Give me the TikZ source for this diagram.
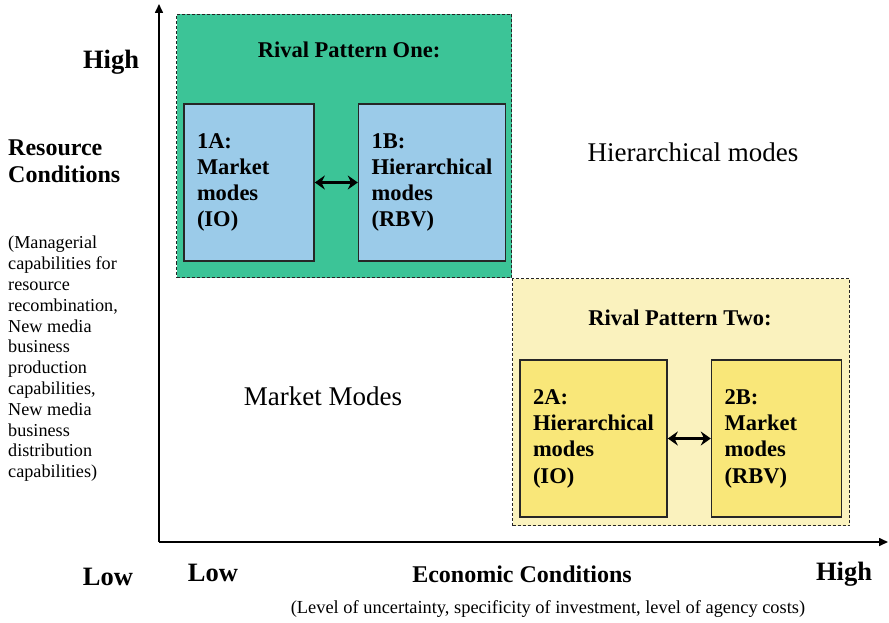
\documentclass[tikz,border=0pt]{standalone}
\usepackage{fontspec}
\setmainfont{Liberation Serif}
\usetikzlibrary{arrows.meta,positioning}
\definecolor{onegreen}{RGB}{60,196,151}
\definecolor{oneblue}{RGB}{155,203,233}
\definecolor{twopale}{RGB}{250,242,190}
\definecolor{twoyellow}{RGB}{249,231,121}

\begin{document}
\begin{tikzpicture}[
  x=1pt,y=-1pt,
  pattern/.style={draw=black!85,densely dashed,line width=1pt,anchor=north west},
  ptitle/.style={font=\fontsize{22.5}{26}\selectfont\bfseries},
  inbox/.style={draw=black!85,line width=1.6pt,minimum height=157pt,inner xsep=13pt,
    align=left,font=\fontsize{22.5}{26.3}\selectfont\bfseries},
  duo/.style={line width=3.6pt,{Stealth[length=10pt,width=14pt]}-{Stealth[length=10pt,width=14pt]}},
  axis/.style={line width=1.6pt,-{Triangle[length=9pt,width=8pt]}},
  big/.style={font=\fontsize{26.5}{30}\selectfont\bfseries},
  mode/.style={font=\fontsize{27}{30}\selectfont},
]
\useasboundingbox (0,0) rectangle (889,623);

% rival pattern one
\node[pattern,fill=onegreen,minimum width=335pt,minimum height=263pt] (p1) at (176,14) {};
\node[ptitle] (p1t) at (349,50) {Rival Pattern One:};
\node[inbox,fill=oneblue,minimum width=130pt,text width=104pt] (a1) at (249,182.5)
  {1A:\\Market\\modes\\(IO)};
\node[inbox,fill=oneblue,minimum width=147pt,text width=121pt,right=43pt of a1] (b1)
  {1B:\\Hierarchical\\modes\\(RBV)};
\draw[duo] (a1) -- (b1);

% rival pattern two
\node[pattern,fill=twopale,minimum width=337pt,minimum height=247pt] (p2) at (512,278) {};
\node[ptitle] (p2t) at (680,318) {Rival Pattern Two:};
\node[inbox,fill=twoyellow,minimum width=147pt,text width=121pt] (a2) at (593.5,438.5)
  {2A:\\Hierarchical\\modes\\(IO)};
\node[inbox,fill=twoyellow,minimum width=130pt,text width=104pt,right=43pt of a2] (b2)
  {2B:\\Market\\modes\\(RBV)};
\draw[duo] (a2) -- (b2);

% axes
\coordinate (o) at (159,542);
\coordinate (ytop) at (159,4);
\coordinate (xend) at (888,542);
\draw[axis] (o) -- (ytop);
\draw[axis] (o) -- (xend);

% regions
\node[mode] (hier) at (693,152) {Hierarchical modes};
\node[mode] (mark) at (323,396) {Market Modes};

% vertical axis labels
\node[big] (yhigh) at (111,62) {High};
\node[big] (ylow) at (108,577) {Low};
\node[anchor=north west,inner sep=0pt,align=left,font=\fontsize{24}{27}\selectfont\bfseries] (ytitle) at (8,140)
  {Resource\\Conditions};
\node[anchor=north west,inner sep=0pt,align=left,font=\fontsize{18.2}{20.8}\selectfont] (ynote) at (8,236)
  {(Managerial\\capabilities for\\resource\\recombination,\\New media\\business\\production\\capabilities,\\New media\\business\\distribution\\capabilities)};

% horizontal axis labels
\node[big] (xlow) at (213,573) {Low};
\node[big] (xhigh) at (844,574) {High};
\node[font=\fontsize{24}{27}\selectfont\bfseries] (xtitle) at (522,574) {Economic Conditions};
\node[font=\fontsize{18.4}{20}\selectfont] (xnote) at (548,609)
  {(Level of uncertainty, specificity of investment, level of agency costs)};
\end{tikzpicture}
\end{document}
